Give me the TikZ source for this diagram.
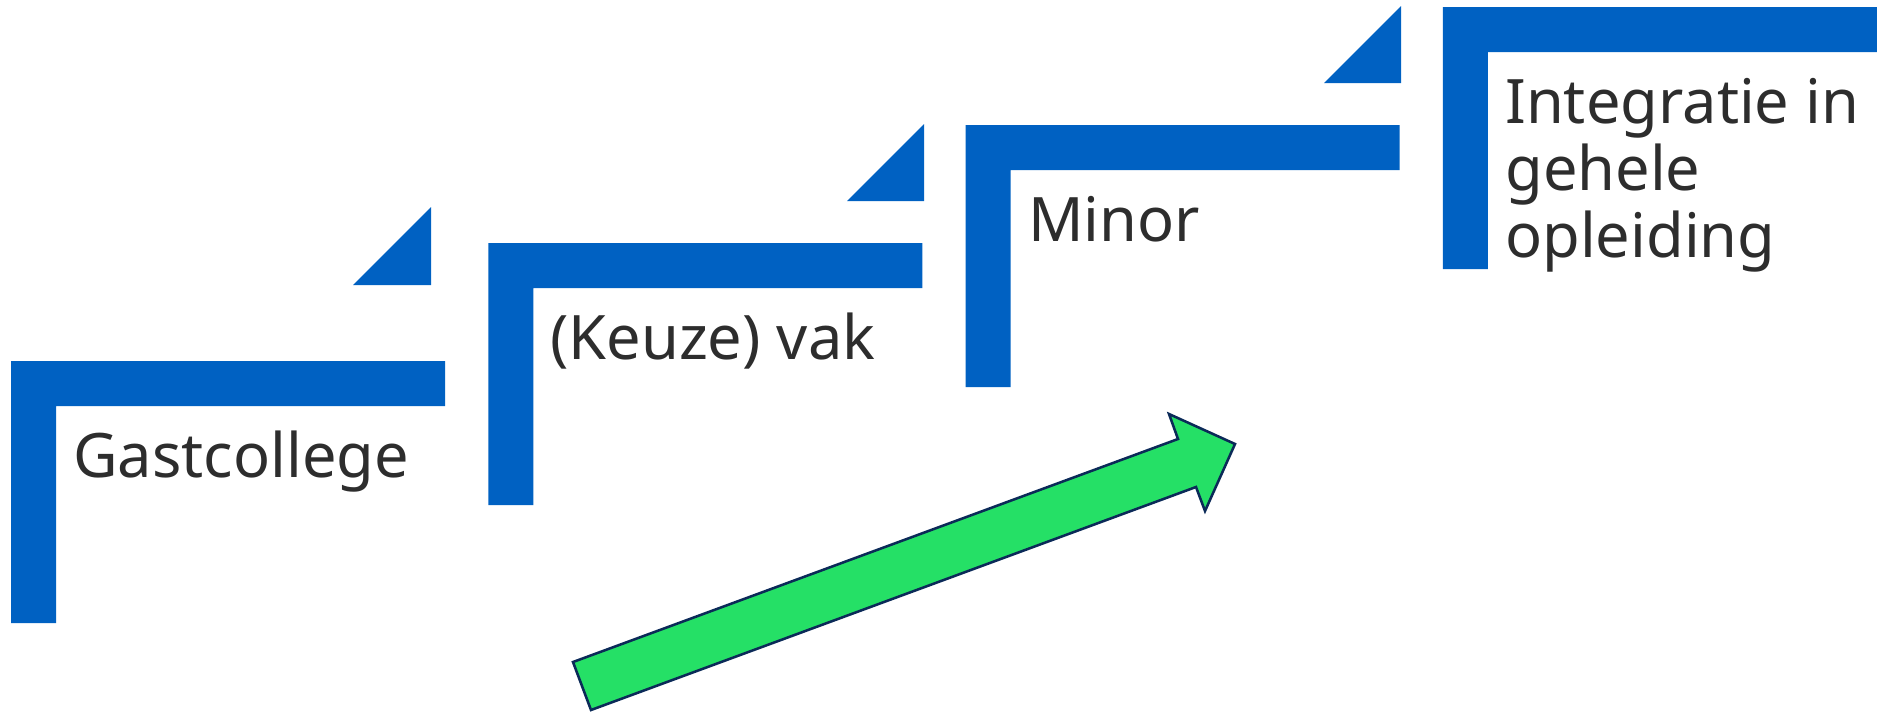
\documentclass[tikz,border=0pt]{standalone}
\usepackage{fontspec}
\setmainfont{Noto Sans}
\definecolor{stepblue}{HTML}{0061C2}
\definecolor{arrowgreen}{HTML}{25E066}
\definecolor{arrownavy}{HTML}{0B2A58}
\definecolor{txt}{HTML}{2D2D2D}
\begin{document}
\begin{tikzpicture}[x=0.75pt,y=-0.75pt,
  stepbar/.style={fill=stepblue,draw=none},
  steptext/.style={anchor=base west,inner sep=0pt,text=txt,font=\fontsize{46}{50.25}\selectfont},
  bigarrow/.style={fill=arrowgreen,draw=arrownavy,line width=1.9pt,line join=miter}]
\useasboundingbox (0,0) rectangle (1883,714);
% L-shaped steps
\foreach \i in {0,1,2,3}{
  \pgfmathsetmacro{\L}{11+477.3*\i}
  \pgfmathsetmacro{\T}{361-118*\i}
  \fill[stepbar] (\L,\T) -- ++(434,0) -- ++(0,45) -- ++(-389,0) -- ++(0,217) -- ++(-45,0) -- cycle;
}
% triangles
\fill[stepbar] (353,285) -- (431,207) -- (431,285) -- cycle;
\fill[stepbar] (847,201) -- (924,124) -- (924,201) -- cycle;
\fill[stepbar] (1324,83) -- (1401,6) -- (1401,83) -- cycle;
% texts
\node[steptext] (t1) at (73,477) {Gastcollege};
\node[steptext] (t2) at (550,359) {(Keuze) vak};
\node[steptext] (t3) at (1028,241) {Minor};
\node[steptext] (t4) at (1505,123) {\parbox[t]{10cm}{\raggedright Integratie in\\gehele\\opleiding}};
% arrow
\coordinate (tailtop) at (573,662);
\coordinate (tailbot) at (591,710);
\draw[bigarrow] (tailtop) -- (1178,439) -- (1169,414) -- (1235,444) -- (1205,511) -- (1196,487) -- (tailbot) -- cycle;
\end{tikzpicture}
\end{document}
